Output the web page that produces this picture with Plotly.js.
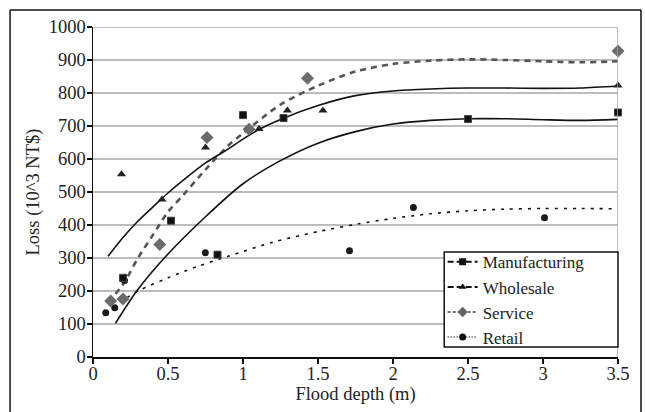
<!DOCTYPE html>
<html>
<head>
<meta charset="utf-8">
<script src="https://cdn.plot.ly/plotly-3.0.1.min.js"></script>
<style>html,body{margin:0;padding:0;background:#fff;}#chart{width:645px;height:412px;}</style>
</head>
<body>
<div id="chart"></div>
<script>
// Observed data points
const mfgX = [0.2, 0.52, 0.83, 1.0, 1.27, 2.5, 3.5];
const mfgY = [240, 413, 310, 733, 724, 721, 741];
const wsX = [0.19, 0.46, 0.75, 1.107, 1.296, 1.533, 3.5];
const wsY = [554, 477, 635, 691, 747, 747, 823];
const svX = [0.118, 0.2, 0.445, 0.76, 1.04, 1.43, 3.5];
const svY = [170, 176, 341, 665, 690, 845, 927];
const rtX = [0.085, 0.145, 0.21, 0.749, 1.71, 2.136, 3.01];
const rtY = [134, 149, 232, 316, 322, 453, 422];

// Fitted trend curves
const mfgFitX = [0.15, 0.3, 0.5, 0.75, 1.0, 1.25, 1.5, 1.75, 2.0, 2.25, 2.5, 2.75, 3.0, 3.25, 3.5];
const mfgFitY = [102, 205, 312, 425, 525, 595, 648, 683, 706, 717, 722, 722, 719, 717, 720];
const wsFitX = [0.1, 0.2, 0.3, 0.4, 0.5, 0.6, 0.75, 0.9, 1.0, 1.1, 1.25, 1.5, 1.75, 2.0, 2.25, 2.5, 2.75, 3.0, 3.25, 3.5];
const wsFitY = [305, 362, 412, 455, 497, 535, 588, 630, 660, 688, 720, 762, 792, 806, 812, 815, 815, 814, 815, 821];
const svFitX = [0.1, 0.2, 0.3, 0.4, 0.5, 0.6, 0.75, 0.9, 1.0, 1.25, 1.5, 1.75, 2.0, 2.25, 2.5, 2.75, 3.0, 3.25, 3.5];
const svFitY = [165, 220, 300, 370, 440, 490, 568, 640, 678, 765, 822, 865, 888, 898, 902, 900, 896, 893, 896];
const rtFitX = [0.08, 0.2, 0.3, 0.5, 0.7, 0.9, 1.2, 1.5, 1.75, 2.0, 2.25, 2.5, 2.75, 3.0, 3.25, 3.5];
const rtFitY = [134, 172, 200, 240, 275, 305, 348, 380, 402, 420, 434, 443, 448, 450, 450, 449];

const seriesNames = ['Manufacturing', 'Wholesale', 'Service', 'Retail'];

const FONT = '"Liberation Serif", serif';
const fitLine = (x, y, line) => ({x, y, mode: 'lines', type: 'scatter', line: Object.assign({shape: 'spline', smoothing: 0.8}, line), showlegend: false, hoverinfo: 'skip', cliponaxis: false});
const pts = (x, y, marker) => ({x, y, mode: 'markers', type: 'scatter', marker, showlegend: false, cliponaxis: false});
const leg = (name, line, marker) => ({x: [null], y: [null], name, mode: 'lines+markers', type: 'scatter', line, marker});

const mfgMarker = {symbol: 'square', size: 7, color: '#111', line: {width: 1, color: '#444'}};
const wsMarker = {symbol: 'triangle-up', size: 8, color: '#222'};
const svMarker = {symbol: 'diamond', size: 10, color: '#6b6b6b'};
const rtMarker = {symbol: 'circle', size: 7, color: '#1a1a1a'};

const data = [
  fitLine(rtFitX, rtFitY, {color: '#111', width: 1.6, dash: '3px,6px'}),
  fitLine(svFitX, svFitY, {color: '#555', width: 2.6, dash: '6px,5px'}),
  fitLine(mfgFitX, mfgFitY, {color: '#111', width: 1.6}),
  fitLine(wsFitX, wsFitY, {color: '#111', width: 1.6}),
  pts(rtX, rtY, rtMarker),
  pts(svX, svY, svMarker),
  pts(wsX, wsY, wsMarker),
  pts(mfgX, mfgY, mfgMarker),
  leg(seriesNames[0], {color: '#111', width: 2, dash: '6px,3px'}, {symbol: 'square', size: 7, color: '#111'}),
  leg(seriesNames[1], {color: '#111', width: 2, dash: '6px,3px'}, {symbol: 'triangle-up', size: 7, color: '#111'}),
  leg(seriesNames[2], {color: '#444', width: 1.5, dash: '3px,2px'}, {symbol: 'diamond', size: 8, color: '#666'}),
  leg(seriesNames[3], {color: '#222', width: 1.5, dash: '1px,2px'}, {symbol: 'circle', size: 7, color: '#111'})
];

const layout = {
  width: 645, height: 412,
  margin: {l: 93, r: 27, t: 27, b: 55, pad: 0},
  paper_bgcolor: '#fff', plot_bgcolor: '#fff',
  font: {family: FONT, size: 18.5, color: '#222'},
  showlegend: true,
  legend: {x: 0.666, xanchor: 'left', y: 0.0053, yanchor: 'bottom', bgcolor: 'rgba(0,0,0,0)', borderwidth: 0,
           font: {family: FONT, size: 17, color: '#222'}, tracegroupgap: 0, itemwidth: 30},
  xaxis: {range: [0, 3.5], tickvals: [0, 0.5, 1, 1.5, 2, 2.5, 3, 3.5], ticktext: ['0', '0.5', '1', '1.5', '2', '2.5', '3', '3.5'],
          showgrid: false, zeroline: false, showline: true, linecolor: '#111', linewidth: 1.5,
          ticks: 'outside', ticklen: 5, tickwidth: 1.5, tickcolor: '#111', ticklabelstandoff: -6,
          title: {text: 'Flood depth (m)', font: {family: FONT, size: 18.5, color: '#222'}, standoff: 2}},
  yaxis: {range: [0, 1000], dtick: 100, tick0: 0, showgrid: true, gridcolor: '#bcbcbc', gridwidth: 1.5,
          zeroline: false, showline: true, linecolor: '#111', linewidth: 1.5,
          ticks: 'outside', ticklen: 5, tickwidth: 1.5, tickcolor: '#111', ticklabelstandoff: -3,
          title: {text: 'Loss (10^3 NT$)', font: {family: FONT, size: 18.5, color: '#222'}, standoff: 4}},
  shapes: [
    {type: 'line', xref: 'x', yref: 'y', x0: 3.5, x1: 3.5, y0: 0, y1: 1000, line: {color: '#a8a8a8', width: 1.5}},
    {type: 'line', xref: 'x', yref: 'y', x0: 0, x1: 3.5, y0: 1000, y1: 1000, line: {color: '#a8a8a8', width: 1.5}},
    {type: 'rect', xref: 'paper', yref: 'paper', layer: 'above', x0: 0.669, x1: 1, y0: 0.0303, y1: 0.318, fillcolor: '#fff', line: {color: '#111', width: 1.5}},
    {type: 'line', xref: 'paper', yref: 'paper', x0: -0.158, x1: -0.158, y0: 1.0515, y1: -0.25, line: {color: '#111', width: 1.5}},
    {type: 'line', xref: 'paper', yref: 'paper', x0: 1.0438, x1: 1.0438, y0: 1.0515, y1: -0.25, line: {color: '#111', width: 1.5}},
    {type: 'line', xref: 'paper', yref: 'paper', x0: -0.158, x1: 1.0438, y0: 1.0515, y1: 1.0515, line: {color: '#111', width: 1.5}}
  ]
};

Plotly.newPlot('chart', data, layout, {staticPlot: true, displayModeBar: false});
</script>
</body>
</html>
